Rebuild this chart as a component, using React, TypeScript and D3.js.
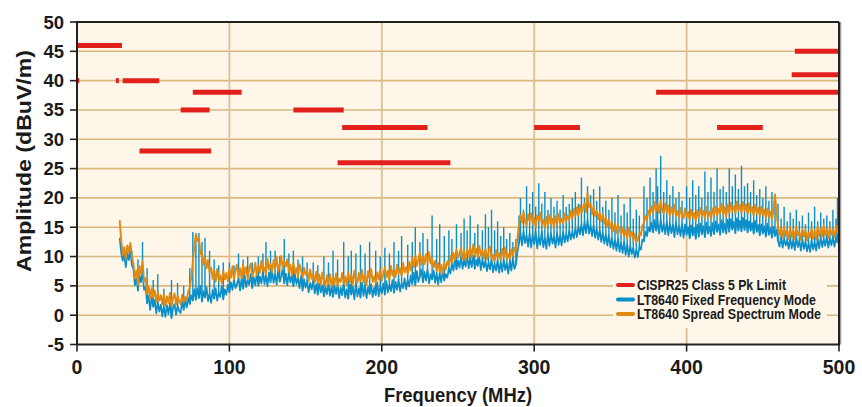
import React from "react";
import * as d3 from "d3";

// frequency axis (MHz) and amplitude axis (dBuV/m)
const xTicks = [0, 100, 200, 300, 400, 500];
const yTicks = [-5, 0, 5, 10, 15, 20, 25, 30, 35, 40, 45, 50];

// CISPR25 class 5 peak limit bands: [fStart, fEnd, level]
const limitBands: [number, number, number][] = [
  [0, 29.5, 46],
  [0, 1.5, 40],
  [25.5, 27.5, 40],
  [30, 54, 40],
  [76, 108, 38],
  [68, 87, 35],
  [41, 88, 28],
  [142, 175, 35],
  [174, 230, 32],
  [171, 245, 26],
  [300, 330, 32],
  [380, 500, 38],
  [420, 450, 32],
  [469, 500, 41],
  [471, 500, 45],
];

// sweep starts at 28 MHz, one reading per MHz
const sweepStart = 28;
const sweepStep = 1;

// LT8640 fixed frequency mode (28..500 MHz)
const fixedFreq = [
  13.2, 10.6, 9.3, 10.4, 8.2, 10.6, 9.4, 11.1, 8.5, 7.9, // 28
  5.1, 6.3, 4.2, 6.9, 5.6, 7.4, 4.3, 4.8, 2.0, 3.4, // 38
  0.9, 3.1, 1.4, 2.6, 0.3, 2.2, 0.6, 1.8, -0.2, 1.5, // 48
  -0.3, 1.7, 0.2, 2.1, -0.5, 1.2, 1.9, 0.1, 1.6, 0.7, // 58
  0.4, 2.3, 0.9, 2.6, 1.3, 3.0, 1.9, 3.4, 2.5, 4.4, // 68
  2.6, 4.6, 2.9, 5.0, 2.3, 4.1, 3.0, 4.8, 2.4, 3.7, // 78
  2.1, 4.3, 2.8, 4.6, 2.5, 3.9, 3.1, 5.0, 2.7, 4.4, // 88
  3.5, 5.2, 3.9, 5.6, 4.3, 6.1, 4.6, 5.3, 6.4, 4.2, // 98
  6.3, 4.5, 6.8, 4.8, 6.0, 5.2, 7.0, 4.6, 6.5, 5.1, // 108
  7.2, 5.0, 6.6, 5.4, 7.5, 5.3, 6.9, 4.9, 7.3, 5.6, // 118
  7.6, 5.5, 7.0, 5.2, 7.8, 5.7, 6.6, 7.9, 5.4, 7.1, // 128
  5.1, 7.3, 5.6, 6.8, 4.9, 7.0, 5.3, 6.4, 4.6, 6.7, // 138
  4.2, 6.1, 4.7, 5.8, 3.9, 5.5, 4.4, 6.0, 3.7, 5.3, // 148
  3.5, 5.4, 3.9, 5.1, 3.2, 4.8, 3.6, 5.5, 3.3, 4.9, // 158
  3.1, 5.0, 3.6, 5.3, 2.9, 4.7, 3.4, 5.6, 3.0, 4.4, // 168
  2.8, 5.2, 3.5, 4.9, 2.7, 5.4, 3.2, 4.6, 3.0, 5.5, // 178
  3.3, 5.1, 2.9, 4.8, 3.6, 5.3, 3.1, 4.7, 3.4, 5.6, // 188
  3.2, 5.0, 3.7, 5.4, 3.5, 5.8, 3.9, 5.2, 4.1, 6.0, // 198
  3.8, 5.7, 4.3, 6.1, 4.0, 5.5, 4.6, 6.3, 4.4, 6.0, // 208
  4.9, 6.8, 5.3, 7.2, 5.1, 7.5, 5.7, 6.6, 7.8, 5.6, // 218
  7.4, 5.9, 7.9, 5.4, 7.0, 6.1, 7.6, 5.5, 7.1, 5.2, // 228
  7.3, 5.6, 7.7, 5.9, 7.0, 6.4, 8.0, 7.1, 8.8, 7.6, // 238
  9.6, 7.8, 9.3, 8.1, 10.0, 7.9, 9.5, 8.3, 10.2, 8.0, // 248
  9.8, 8.2, 10.1, 7.9, 9.4, 8.4, 9.9, 7.7, 9.6, 8.1, // 258
  9.3, 7.5, 9.0, 7.8, 9.6, 7.3, 8.8, 7.6, 9.4, 7.2, // 268
  9.1, 7.4, 9.5, 7.7, 8.9, 7.1, 9.3, 7.6, 9.8, 7.9, // 278
  8.6, 10.8, 12.2, 14.1, 11.9, 14.4, 12.3, 13.6, 11.7, 14.0, // 288
  11.5, 13.8, 12.1, 14.2, 11.4, 13.5, 12.0, 14.3, 11.6, 13.2, // 298
  11.3, 13.9, 11.8, 14.0, 12.2, 13.4, 11.5, 14.1, 12.0, 13.6, // 308
  11.9, 14.3, 12.4, 13.8, 12.6, 14.5, 12.9, 14.2, 13.1, 14.9, // 318
  13.3, 15.2, 13.8, 15.5, 13.6, 15.9, 14.0, 16.2, 13.9, 15.4, // 328
  13.5, 15.3, 13.2, 14.8, 12.9, 14.6, 12.5, 14.1, 12.2, 13.8, // 338
  11.9, 13.7, 11.6, 13.2, 11.3, 12.9, 11.0, 13.1, 10.8, 12.4, // 348
  10.6, 12.5, 10.3, 12.1, 10.0, 11.8, 10.4, 11.5, 9.8, 11.2, // 358
  9.9, 11.6, 11.2, 12.9, 12.6, 14.2, 13.5, 15.0, 14.3, 15.8, // 368
  14.1, 16.2, 14.4, 15.9, 13.9, 16.4, 14.2, 15.6, 13.8, 16.0, // 378
  13.6, 15.7, 14.0, 15.4, 13.3, 15.9, 13.8, 15.2, 13.5, 15.6, // 388
  13.2, 15.5, 13.7, 15.0, 13.1, 15.3, 13.6, 14.9, 13.0, 15.4, // 398
  13.4, 15.6, 13.8, 15.2, 13.3, 15.8, 13.9, 15.1, 13.5, 15.7, // 408
  13.8, 16.0, 14.2, 15.5, 13.7, 16.2, 14.1, 15.6, 13.9, 16.3, // 418
  14.2, 16.4, 14.6, 15.9, 14.0, 16.5, 14.4, 16.1, 14.3, 16.6, // 428
  14.5, 16.2, 14.1, 16.0, 14.4, 15.7, 13.9, 16.1, 14.2, 15.4, // 438
  13.6, 15.5, 13.9, 15.2, 13.4, 15.6, 13.7, 14.9, 13.2, 15.1, // 448
  13.5, 14.6, 12.6, 11.7, 13.4, 11.5, 13.1, 11.9, 12.8, 11.3, // 458
  13.2, 11.4, 12.9, 11.1, 13.3, 11.6, 12.7, 11.0, 12.9, 11.3, // 468
  12.6, 10.9, 12.3, 10.8, 12.8, 11.2, 12.5, 11.0, 13.0, 11.4, // 478
  13.3, 11.6, 13.0, 11.8, 13.5, 11.5, 13.1, 11.9, 13.4, 11.7, // 488
  13.2, 12.4, 13.8, // 498
];

// harmonic spurs on the fixed frequency trace: [MHz, peak]
const fixedSpurs: [number, number][] = [
  [31, 11.5], [36, 11], [40, 9.5], [43, 12.5], [46, 8], [50, 6], [53, 7],
  [57, 4.5], [62, 6], [66, 5.5], [70, 5], [74, 8], [76, 14.2], [78, 13.8],
  [80, 14], [82, 12.5], [84, 13.2], [87, 11], [90, 9.5], [93, 8.5], [96, 9],
  [100, 9], [103, 8.5], [106, 10.5], [109, 9.5], [112, 10], [115, 9],
  [119, 10], [122, 10.5], [124, 12.5], [127, 11], [130, 11], [133, 10],
  [136, 13], [139, 10.5], [142, 11], [145, 9.5], [148, 10], [151, 9],
  [155, 9], [158, 8.5], [162, 10], [165, 9], [168, 11], [171, 9.5],
  [175, 12.5], [178, 10], [180, 11], [183, 10.5], [186, 12], [189, 10.5],
  [192, 12.5], [196, 11], [199, 10], [202, 11.5], [205, 10.5], [208, 12.5],
  [211, 11], [213, 13.5], [217, 12], [220, 12.5], [222, 15], [225, 12.5],
  [227, 14], [230, 13], [233, 17], [236, 13], [238, 15.5], [241, 13.5],
  [244, 14.5], [246, 13], [249, 15.5], [252, 14], [254, 16.5], [256, 14.5],
  [258, 17], [261, 14], [263, 15.5], [266, 14.5], [268, 17.2], [270, 15],
  [272, 18], [274, 14.5], [276, 16], [278, 13.5], [280, 15], [282, 13],
  [284, 14], [286, 12.5], [288, 13],
  [290, 17], [291, 20], [293, 18], [295, 22], [297, 19], [299, 21],
  [301, 18.5], [303, 22.5], [305, 19], [307, 21], [309, 18], [311, 20],
  [313, 18.5], [315, 19.5], [317, 18], [319, 20.5], [321, 18.5], [323, 19],
  [325, 20], [327, 21], [329, 19], [331, 23.5], [333, 20], [335, 22],
  [337, 20.5], [339, 21.5], [341, 19.5], [343, 22], [345, 18.5], [347, 19.5],
  [349, 18], [351, 20], [353, 17.5], [355, 20.5], [357, 17], [359, 19],
  [361, 17.5], [363, 20], [365, 16.5], [367, 18], [369, 17], [372, 22],
  [374, 20], [376, 23.5], [378, 21], [380, 25], [381, 22], [383, 27.2],
  [385, 21], [387, 23], [389, 20.5], [391, 22], [393, 20], [395, 21],
  [397, 19.5], [400, 22], [402, 20], [404, 23], [406, 20.5], [408, 22],
  [410, 20], [412, 24.5], [414, 21], [416, 23.5], [418, 21], [420, 25],
  [422, 21.5], [424, 22], [426, 21], [428, 25], [430, 22], [432, 24],
  [434, 21.5], [436, 25.5], [438, 22], [440, 22.5], [442, 21], [444, 23],
  [446, 20.5], [448, 21.5], [450, 20], [452, 22], [454, 19.5], [456, 21],
  [458, 18.5], [460, 19], [462, 16.5], [464, 18.5], [466, 16], [468, 17.5],
  [470, 16.5], [472, 18], [474, 16], [476, 17], [478, 15.5], [480, 17.5],
  [482, 16], [484, 18.5], [486, 16], [488, 17.5], [490, 16.5], [492, 17],
  [494, 16], [496, 18], [498, 16.5], [499, 20],
];

// LT8640 spread spectrum mode (28..500 MHz)
const spreadSpectrum = [
  16.2, 12.8, 10.4, 11.6, 9.6, 11.9, 10.7, 12.3, 10.1, 8.8, // 28
  6.4, 7.6, 5.2, 8.4, 7.1, 9.2, 5.8, 6.3, 3.6, 4.9, // 38
  2.7, 4.6, 3.1, 4.2, 2.2, 3.9, 2.5, 3.4, 1.9, 3.6, // 48
  1.6, 3.2, 2.1, 3.8, 1.5, 2.9, 3.7, 1.8, 3.3, 2.4, // 58
  1.9, 3.5, 2.2, 3.1, 2.6, 4.0, 4.6, 6.5, 9.2, 11.6, // 68
  13.9, 12.6, 13.2, 10.4, 10.8, 8.6, 9.8, 8.0, 9.4, 7.3, // 78
  8.1, 6.2, 7.6, 5.7, 7.9, 6.0, 6.8, 5.4, 7.5, 6.1, // 88
  7.2, 5.8, 7.9, 6.4, 8.3, 6.1, 7.7, 8.6, 6.5, 8.0, // 98
  6.3, 8.7, 7.0, 8.2, 6.2, 7.9, 8.8, 6.6, 7.4, 8.9, // 108
  6.8, 8.4, 7.2, 9.3, 7.6, 8.1, 6.9, 9.6, 7.8, 8.7, // 118
  7.3, 9.4, 8.0, 9.9, 7.5, 8.6, 10.1, 7.9, 9.2, 8.3, // 128
  9.5, 7.4, 8.6, 6.8, 8.9, 7.2, 8.0, 6.5, 8.7, 7.6, // 138
  6.4, 8.1, 6.9, 7.5, 5.8, 7.8, 6.2, 7.1, 5.6, 7.4, // 148
  5.5, 6.9, 5.2, 7.3, 6.0, 5.1, 6.8, 5.4, 7.0, 4.9, // 158
  6.5, 5.3, 7.1, 5.0, 6.2, 5.7, 7.2, 5.4, 6.6, 5.1, // 168
  7.4, 5.6, 6.9, 5.3, 7.6, 6.0, 5.5, 7.2, 5.8, 7.7, // 178
  5.6, 6.8, 5.2, 7.5, 6.3, 7.9, 5.7, 6.6, 5.4, 7.3, // 188
  6.1, 7.8, 5.9, 7.0, 8.2, 6.4, 7.6, 6.0, 8.4, 6.8, // 198
  7.7, 6.5, 8.6, 7.1, 8.0, 6.7, 8.9, 7.3, 8.2, 7.0, // 208
  9.1, 7.6, 9.8, 8.2, 10.2, 8.4, 9.5, 10.7, 8.6, 10.0, // 218
  8.7, 10.4, 9.0, 10.8, 8.8, 9.6, 8.1, 9.3, 7.6, 8.9, // 228
  7.4, 8.6, 7.1, 8.9, 7.8, 9.2, 8.5, 10.1, 9.0, 10.6, // 238
  9.4, 11.2, 9.8, 10.5, 11.5, 9.6, 10.9, 9.3, 11.3, 10.0, // 248
  11.6, 9.8, 12.1, 10.4, 11.3, 9.9, 11.8, 10.2, 11.0, 9.7, // 258
  11.4, 9.5, 10.8, 11.7, 9.6, 10.3, 9.2, 11.1, 9.8, 10.6, // 268
  9.4, 11.3, 10.0, 11.6, 9.5, 10.4, 9.7, 11.2, 10.1, 11.5, // 278
  11.0, 13.2, 15.4, 17.1, 15.8, 17.6, 16.0, 15.3, 17.2, 16.1, // 288
  17.4, 15.5, 16.6, 15.1, 17.0, 16.2, 17.5, 15.4, 16.3, 15.0, // 298
  16.8, 15.2, 17.1, 15.6, 16.4, 15.0, 16.9, 15.5, 17.3, 15.8, // 308
  16.5, 15.6, 17.4, 16.0, 17.0, 16.3, 17.8, 16.5, 18.1, 16.9, // 318
  18.4, 17.0, 18.8, 17.4, 18.2, 19.1, 17.6, 20.8, 18.4, 19.0, // 328
  17.2, 18.6, 16.9, 17.8, 16.4, 17.5, 16.0, 17.2, 15.6, 16.7, // 338
  15.1, 16.3, 14.8, 15.9, 14.3, 15.6, 14.0, 15.4, 14.6, 13.8, // 348
  15.0, 13.5, 14.6, 13.1, 14.9, 13.4, 14.2, 12.7, 13.9, 12.5, // 358
  12.9, 14.1, 13.6, 15.3, 15.7, 17.0, 16.3, 17.8, 17.2, 18.6, // 368
  17.5, 19.3, 17.8, 19.0, 17.4, 19.6, 18.0, 17.3, 19.1, 17.6, // 378
  18.7, 16.9, 18.4, 17.2, 18.9, 17.0, 17.8, 16.6, 18.3, 17.1, // 388
  16.5, 18.2, 16.8, 17.6, 16.2, 18.0, 16.7, 17.4, 16.1, 17.9, // 398
  16.6, 18.3, 17.0, 17.8, 16.5, 18.5, 16.9, 17.7, 16.4, 18.2, // 408
  17.2, 18.6, 16.9, 18.1, 17.5, 19.0, 17.1, 18.4, 16.8, 18.9, // 418
  17.4, 19.2, 17.8, 18.6, 17.3, 19.4, 17.9, 18.8, 17.5, 19.3, // 428
  17.8, 18.9, 17.2, 19.1, 17.6, 18.4, 17.0, 18.8, 17.4, 18.3, // 438
  16.9, 18.5, 17.1, 18.0, 16.6, 18.2, 16.8, 17.6, 16.3, 17.9, // 448
  20.6, 17.5, 15.2, 13.6, 14.8, 13.2, 15.1, 13.5, 14.4, 13.0, // 458
  14.9, 13.3, 14.6, 12.9, 15.0, 13.6, 14.2, 12.8, 14.7, 13.4, // 468
  14.5, 12.7, 14.1, 13.3, 14.8, 13.0, 14.4, 12.9, 15.1, 13.5, // 478
  14.8, 13.4, 15.3, 13.6, 14.6, 13.2, 15.0, 13.7, 14.5, 13.3, // 488
  15.2, 14.0, 15.4, // 498
];

const legendItems = [
  { label: "CISPR25 Class 5 Pk Limit", color: "#e2201b", len: 149 },
  { label: "LT8640 Fixed Frequency Mode", color: "#0a8fcb", len: 179 },
  { label: "LT8640 Spread Spectrum Mode", color: "#df8a12", len: 184 },
];

const FONT = "'Liberation Sans Narrow', 'Arial Narrow', 'Liberation Sans', sans-serif";

export default function App() {
  const width = 862;
  const height = 407;
  const x = d3.scaleLinear().domain([0, 500]).range([77, 839]);
  const y = d3.scaleLinear().domain([-5, 50]).range([344.5, 22]);

  const line = d3
    .line<number>()
    .x((_, i) => x(sweepStart + i * sweepStep))
    .y((d) => y(d));

  const fixedAt = (f: number) => {
    const i = Math.round((f - sweepStart) / sweepStep);
    return fixedFreq[Math.max(0, Math.min(fixedFreq.length - 1, i))];
  };

  const spurPath = fixedSpurs
    .map(([f, v]) => `M${x(f)},${y(fixedAt(f))}V${y(v)}`)
    .join("");

  const [x0, x1] = x.range();
  const [y0, y1] = y.range();

  return (
    <svg
      width={width}
      height={height}
      style={{ position: "absolute", left: 0, top: 0, background: "#fff" }}
      fontFamily={FONT}
      fontWeight="bold"
    >
      <rect x={x0} y={y1} width={x1 - x0} height={y0 - y1} fill="#fdf6e9" />

      {/* grid */}
      {yTicks
        .filter((t) => t > -5 && t < 50)
        .map((t) => (
          <line key={"gy" + t} x1={x0} x2={x1} y1={y(t)} y2={y(t)} stroke="#d9b87f" strokeWidth={1.6} />
        ))}
      {xTicks
        .filter((t) => t > 0 && t < 500)
        .map((t) => (
          <line key={"gx" + t} x1={x(t)} x2={x(t)} y1={y1} y2={y0} stroke="#dcc092" strokeWidth={1.8} />
        ))}

      {/* legend backdrop */}
      <rect x={613} y={272} width={214} height={56} fill="#fdf6e9" />

      {/* limit bands */}
      {limitBands.map(([a, b, v], i) => (
        <line key={"lim" + i} x1={x(a)} x2={x(b)} y1={y(v)} y2={y(v)} stroke="#e2201b" strokeWidth={5} />
      ))}

      {/* traces */}
      <path d={line(fixedFreq) || ""} fill="none" stroke="#0a8fcb" strokeWidth={1.7} strokeLinejoin="round" />
      <path d={spurPath} fill="none" stroke="#0a8fcb" strokeWidth={1.4} />
      <path d={line(spreadSpectrum) || ""} fill="none" stroke="#df8a12" strokeWidth={1.9} strokeLinejoin="round" />

      {/* frame */}
      <line x1={x1 + 1.5} x2={x1 + 1.5} y1={y1} y2={y0} stroke="#9a9a9a" strokeWidth={1.5} />
      <line x1={x0} x2={x1} y1={y1} y2={y1} stroke="#222" strokeWidth={2} />
      <line x1={x1} x2={x1} y1={y1} y2={y0} stroke="#222" strokeWidth={2} />
      <line x1={x0} x2={x1 + 1} y1={y0} y2={y0} stroke="#222" strokeWidth={2} />
      <line x1={x0} x2={x0} y1={y1 - 1} y2={y0} stroke="#222" strokeWidth={2} />

      {/* y axis */}
      {yTicks.map((t) => (
        <g key={"yt" + t}>
          <line x1={x0 - 7} x2={x0} y1={y(t)} y2={y(t)} stroke="#222" strokeWidth={1.6} />
          <text x={64} y={y(t) + 6.5} textAnchor="end" fontSize={18.5} fill="#1a1a1a">
            {t}
          </text>
        </g>
      ))}

      {/* x axis */}
      {xTicks.map((t) => (
        <g key={"xt" + t}>
          <line x1={x(t)} x2={x(t)} y1={y0} y2={y0 + 7} stroke="#222" strokeWidth={1.6} />
          <text x={x(t)} y={374} textAnchor="middle" fontSize={19.5} fill="#1a1a1a">
            {t}
          </text>
        </g>
      ))}

      <text
        x={458}
        y={402}
        textAnchor="middle"
        fontSize={21}
        fill="#1a1a1a"
        textLength={148}
        lengthAdjust="spacingAndGlyphs"
      >
        Frequency (MHz)
      </text>
      <text
        transform="translate(31,161) rotate(-90)"
        textAnchor="middle"
        fontSize={20}
        fill="#1a1a1a"
        textLength={222}
        lengthAdjust="spacingAndGlyphs"
      >
        Amplitude (dBuV/m)
      </text>

      {/* legend */}
      {legendItems.map((d, i) => (
        <g key={d.label} transform={`translate(0, ${285 + i * 14.5})`}>
          <line x1={618} x2={633} y1={0} y2={0} stroke={d.color} strokeWidth={4} strokeLinecap="round" />
          <text x={637} y={5} fontSize={14.5} fill="#1a1a1a" textLength={d.len} lengthAdjust="spacingAndGlyphs">
            {d.label}
          </text>
        </g>
      ))}
    </svg>
  );
}
